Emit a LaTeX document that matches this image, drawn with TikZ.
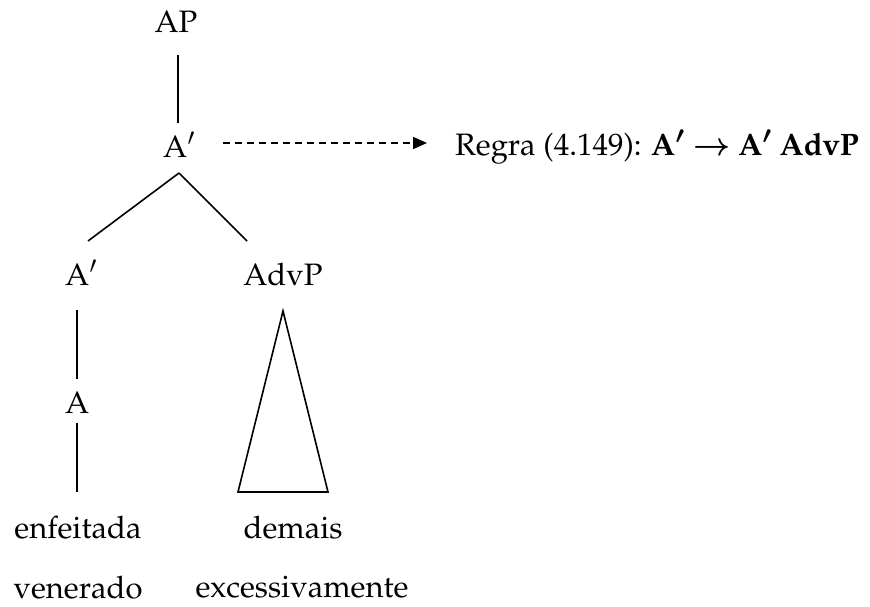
\documentclass[tikz,border=0pt]{standalone}
\usepackage[T1]{fontenc}
\usepackage{mathpazo}
\usepackage{bm}
\usetikzlibrary{calc,arrows.meta}
\begin{document}
\begin{tikzpicture}[x=1pt,y=1pt,
  lbl/.style={inner sep=0pt,font=\fontsize{31}{36}\selectfont},
  edge/.style={line width=1.6pt},
  arr/.style={line width=1.6pt,dash pattern=on 7pt off 5pt,-{Triangle[length=14pt,width=12pt]}}]
\useasboundingbox (0,0) rectangle (870,-606);
\node[lbl,anchor=base] (AP) at (176,-32) {AP};
\node[lbl,anchor=base west] (A1) at (163,-157) {A$'$};
\node[lbl,anchor=base west] (A2) at (65,-285) {A$'$};
\node[lbl,anchor=base] (AdvP) at (283,-285) {AdvP};
\node[lbl,anchor=base west] (A3) at (65,-413) {A};
\node[lbl,anchor=base] (enf) at (78,-538) {enfeitada};
\node[lbl,anchor=base] (dem) at (293,-538) {demais};
\node[lbl,anchor=base] (ven) at (78,-598) {venerado};
\node[lbl,anchor=base] (exc) at (302,-597) {excessivamente};
\node[lbl,anchor=base west] (rule) at (455,-155) {Regra (4.149): \textbf{A$\bm{'}$ \boldmath$\rightarrow$ A$\bm{'}$ AdvP}};
% edges
\draw[edge] ($(AP.base)+(2,-23)$) -- ($(A1.base west)+(15,34)$);
\draw[edge] ($(A1.base west)+(16,-16)$) -- ($(A2.base west)+(23,44)$);
\draw[edge] ($(A1.base west)+(16,-16)$) -- ($(AdvP.base)+(-36,44)$);
\draw[edge] ($(A2.base west)+(12,-25)$) -- ($(A3.base west)+(12,34)$);
\draw[edge] ($(A3.base west)+(12,-10)$) -- ($(enf.base)+(-1,46)$);
\draw[edge,line join=miter] ($(AdvP.base)+(0,-26)$) -- ($(dem.base)+(-55,46)$) -- ($(dem.base)+(35,46)$) -- cycle;
\draw[arr] ($(A1.base west)+(60,14)$) -- ($(rule.base west)+(-28,12)$);
\end{tikzpicture}
\end{document}
